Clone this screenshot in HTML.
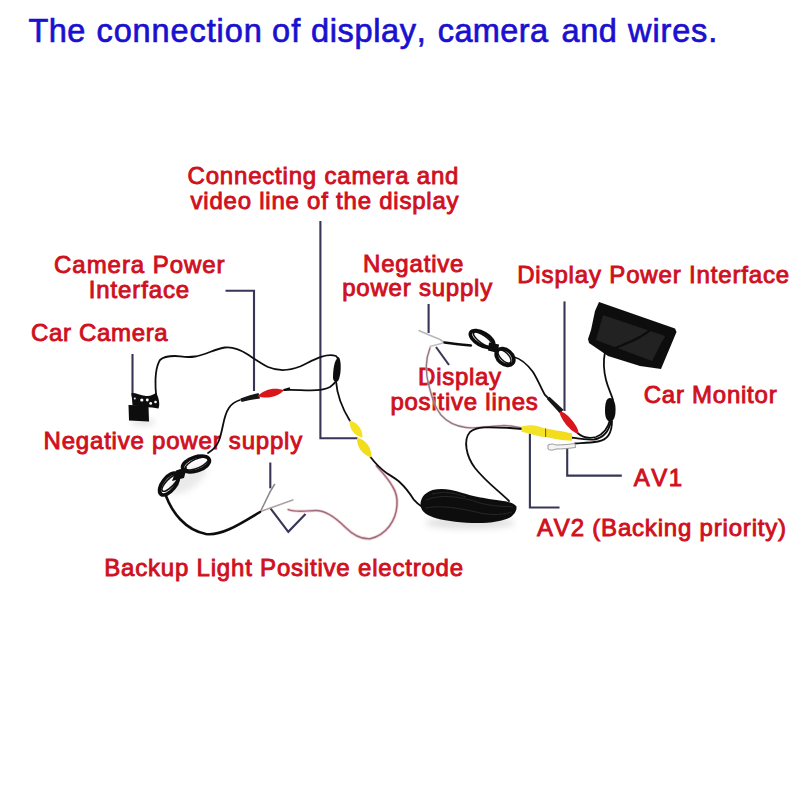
<!DOCTYPE html>
<html><head><meta charset="utf-8">
<style>
html,body{margin:0;padding:0;background:#fff;}
body{width:800px;height:800px;position:relative;overflow:hidden;font-family:"Liberation Sans",sans-serif;}
.t{position:absolute;white-space:nowrap;line-height:1;transform-origin:0 0;font-kerning:none;}
.title{color:#1a10cf;font-size:32.5px;-webkit-text-stroke:0.7px #1a10cf;}
.r{color:#d0101e;font-size:24.0px;-webkit-text-stroke:0.9px #d0101e;}
.c{text-align:center;}
svg{position:absolute;left:0;top:0;}
#wrap{position:absolute;left:0;top:0;width:800px;height:800px;}
</style></head><body><div id="wrap">
<!--TITLE-->
<div class="t title" style="left:28.50px;top:14.80px;letter-spacing:0.400px">The</div>
<div class="t title" style="left:96.50px;top:14.80px;letter-spacing:0.889px">connection</div>
<div class="t title" style="left:272.10px;top:14.80px;letter-spacing:1.000px">of</div>
<div class="t title" style="left:310.90px;top:14.80px;letter-spacing:0.671px">display,</div>
<div class="t title" style="left:437.75px;top:14.80px;letter-spacing:0.400px">camera</div>
<div class="t title" style="left:561.50px;top:14.80px;letter-spacing:0.600px">and</div>
<div class="t title" style="left:628.10px;top:14.80px;letter-spacing:0.840px">wires.</div>
<!--/TITLE-->


<!--LABELS-->
<div class="t r" style="left:187.60px;top:163.70px;letter-spacing:0.800px">Connecting camera and</div>
<div class="t r" style="left:190.50px;top:189.00px;letter-spacing:0.775px">video line of the display</div>
<div class="t r" style="left:54.10px;top:252.50px;letter-spacing:0.945px">Camera Power</div>
<div class="t r" style="left:88.80px;top:278.00px;letter-spacing:0.863px">Interface</div>
<div class="t r" style="left:31.00px;top:321.00px;letter-spacing:0.667px">Car Camera</div>
<div class="t r" style="left:43.60px;top:429.25px;letter-spacing:0.790px">Negative power supply</div>
<div class="t r" style="left:104.25px;top:556.00px;letter-spacing:0.800px">Backup Light Positive electrode</div>
<div class="t r" style="left:363.10px;top:252.00px;letter-spacing:0.800px">Negative</div>
<div class="t r" style="left:342.25px;top:276.40px;letter-spacing:0.773px">power supply</div>
<div class="t r" style="left:517.20px;top:262.50px;letter-spacing:0.845px">Display Power Interface</div>
<div class="t r" style="left:418.10px;top:365.10px;letter-spacing:0.717px">Display</div>
<div class="t r" style="left:390.40px;top:389.50px;letter-spacing:0.769px">positive lines</div>
<div class="t r" style="left:643.75px;top:382.50px;letter-spacing:0.750px">Car Monitor</div>
<div class="t r" style="left:633.70px;top:465.50px;letter-spacing:1.500px">AV1</div>
<div class="t r" style="left:537.00px;top:515.50px;letter-spacing:0.810px">AV2 (Backing priority)</div>
<!--/LABELS-->
<!--GFX-->
<svg width="800" height="800" viewBox="0 0 800 800" style="position:absolute;left:0;top:0">
  <defs>
    <filter id="soft" x="-20%" y="-20%" width="140%" height="140%"><feGaussianBlur stdDeviation="0.45"/></filter>
    <filter id="shadow" x="-30%" y="-50%" width="160%" height="200%"><feGaussianBlur stdDeviation="3"/></filter>
  </defs>
  <!-- soft shadows -->
  <ellipse cx="470" cy="523" rx="45" ry="6" fill="#c8c8c8" opacity="0.55" filter="url(#shadow)"/>
  <ellipse cx="188" cy="480" rx="22" ry="9" transform="rotate(-35 188 480)" fill="#d0d0d0" opacity="0.45" filter="url(#shadow)"/>
  <ellipse cx="143" cy="422" rx="12" ry="4" fill="#c8c8c8" opacity="0.5" filter="url(#shadow)"/>

  <g filter="url(#soft)">
  <!-- navy pointer lines -->
  <g fill="none" stroke="#373656" stroke-width="2.1" stroke-linejoin="miter">
    <polyline points="320.4,221 320.4,438.2 357.7,438.2"/>
    <polyline points="225.5,290.8 254,290.8 254,391"/>
    <line x1="132.5" y1="354" x2="132.5" y2="396.5"/>
    <line x1="270.3" y1="462.5" x2="270.3" y2="488.3"/>
    <polyline points="270.3,508.1 288.3,531.8 305.5,514.1"/>
    <line x1="428.6" y1="304" x2="428.6" y2="333"/>
    <line x1="436" y1="347" x2="449" y2="365"/>
    <line x1="564.5" y1="301.4" x2="564.5" y2="411"/>
    <polyline points="567.2,447.5 567.2,475.6 621.8,475.6"/>
    <polyline points="529.9,433.4 529.9,507.5 559.5,507.5"/>
  </g>
  <!-- pink / gray thin wires -->
  <g fill="none" stroke-linecap="round">
    <path d="M260.5,511.5 L270.3,491.3 L274.5,484.5" stroke="#8a8a8a" stroke-width="1.6"/>
    <path d="M260.5,511.5 L292.8,499.9" stroke="#b0a0a4" stroke-width="1.6"/>
    <path d="M288.3,509.6 C296,512.5 305,511 315,510.5 C326,510 336,518 345,527 C352,534 360,539.5 370,538.8 C386,535 396,521 397,505 C397.5,497 395.5,491 392.5,486.5 C389,480 383,473 376.5,466" stroke="#eeaab8" stroke-width="3.2" opacity="0.5"/>
    <path d="M288.3,509.6 C296,512.5 305,511 315,510.5 C326,510 336,518 345,527 C352,534 360,539.5 370,538.8 C386,535 396,521 397,505 C397.5,497 395.5,491 392.5,486.5 C389,480 383,473 376.5,466" stroke="#a06d7a" stroke-width="1.5"/>
    <path d="M419,330.5 C424,333 434,337 440,339.5 L444.5,342.5" stroke="#b8b8b8" stroke-width="1.6"/>
    <path d="M430,346.5 C434,345.5 440,344 444.5,342.5" stroke="#c0c0c0" stroke-width="1.5"/>
    <path d="M430,348 C426,358 425,372 429,386 C432,397 434,406 441,415 C447,422 455,426 466,427.5 C478,429 490,426 504,425.5 C512,425.5 517,427 522,428" stroke="#f0c4cc" stroke-width="3" opacity="0.4"/>
    <path d="M430,348 C426,358 425,372 429,386 C432,397 434,406 441,415 C447,422 455,426 466,427.5 C478,429 490,426 504,425.5 C512,425.5 517,427 522,428" stroke="#8c7a86" stroke-width="1.4"/>
  </g>
  <!-- black wires -->
  <g fill="none" stroke="#111" stroke-width="1.8" stroke-linecap="round">
    <path d="M156,394 C155,382 155,368 160,360 C163,357 168,356 175,356 C180,356 186,358 195,356.5 C205,355 215,349 225,347.5 C233,346.5 240,349.5 247,354 C254,358.5 262,364 268,367 C275,370 286,372 300,366.5 C312,361 325,352.5 336,356 L338.5,359"/>
    <path d="M284,390 C300,389 318,393 330,387 C334,384 336,382 336,380"/>
    <path d="M336,381 C337,395 342,408 350,421"/>
    <path d="M370.5,457 C375,463 381,469 386.5,473 C391,476 395,478 399,481.5 C404,486 409,492 413.5,499.3 C416,502 418,504 421,506"/>
    <path d="M240,400 C230,403 226,410 223,425 C220,440 218,447 208,453"/>
    <path d="M166,496 C172,512 185,530 206,534 C222,536 240,524 260,512" stroke-width="2.6"/>
    <path d="M509,501 C500,492 486,482 475,468 C466,456 463,440 470,432 C477,426 490,427 510,428 L522,429"/>
    <path d="M444.5,342.5 C452,343.5 460,344.5 471,345.5" stroke-width="2.4"/>
    <path d="M514,357 C522,359 527,364 533,372 C538,380 541,388 545,395 L550,400"/>
    <path d="M605,352 C603,362 604,372 606,380 C608,388 611,393 613,400"/>
    <path d="M610,420 C608,428 604,434 596,437 C588,439 582,437 577.5,433" stroke-width="1.8"/>
    <path d="M611,421 C609,431 603,438 594,439.5 C586,440 578,438.5 571,437.5" stroke-width="1.8"/>
    <path d="M612,421 C612,433 607,440 598,441.5 C590,443 582,443 575,443.5" stroke-width="1.8"/>
  </g>
  <!-- top black connector -->
  <path d="M338.5,357 C342,360 341,377 338,381 C336,383 333,381 333,378 C333,370 334,360 338.5,357 Z" fill="#111"/>
  <!-- monitor cable connector -->
  <path d="M610,398 C614,398 616,404 615.5,412 C615,419 613,421 610,421.5 C607,421 605,418 605,411 C605,404 606,398 610,398 Z" fill="#111"/>
  <!-- red connector left -->
  <path d="M240.5,398.5 C246,396.5 252,394.5 258.5,393 L260,398.5 C253,399.5 247,400.5 241.5,402 Z" fill="#141414"/>
  <path d="M257.5,396.0 C266.6,399.4 277.2,397.1 284.0,390.2 C274.9,386.8 264.3,389.1 257.5,396.0 Z" fill="#d8141f"/>
  <path d="M284,390 L290,388.3" stroke="#111" stroke-width="2" fill="none"/>
  <!-- red connector right -->
  <path d="M547,399.2 L549.5,396.8 L563.5,409.8 L560,413.6 Z" fill="#141414"/>
  <path d="M560.0,411.5 C558.1,416.8 572.7,434.3 578.2,433.4 C580.1,428.1 565.5,410.6 560.0,411.5 Z" fill="#d8141f"/>
  <!-- yellow RCA left -->
  <path d="M349.5,420.5 C349.1,428.9 354.3,435.9 362.5,437.8 C362.9,429.4 357.7,422.4 349.5,420.5 Z" fill="#f4e226"/>
  <path d="M357.0,437.5 C356.5,447.0 362.2,454.9 371.4,457.4 C371.9,447.9 366.2,440.0 357.0,437.5 Z" fill="#f2dc1e"/>
  <!-- yellow RCA right -->
  <path d="M521.5,426.6 C526,425.5 530,425 533,425.2 C538,425.8 542,427.5 545.6,428.4 L545.6,437 C540,436.5 536,435.5 532.5,434.4 C529,433.5 525,432.5 521.5,431.8 Z" fill="#f4e226"/>
  <path d="M545.6,428.4 C551,429.2 555,430.2 558.7,430.8 C563,431.6 567,432.5 572,433.5 L572,440.8 C567,440.6 563,440 558.7,439.5 C554,438.8 550,437.8 545.6,437 Z" fill="#f2dc1e"/>
  <line x1="545.6" y1="428.5" x2="545.6" y2="437" stroke="#6a5a10" stroke-width="1"/>
  <!-- white plug -->
  <path d="M548,445 C551,443.5 554,444 556,445 C562,445 568,444.5 575,443.5 L575.5,447.5 C568,448.5 562,449 556,449 C553,450.5 549.5,450.5 548,449 Z" fill="#f4f4f4" stroke="#909090" stroke-width="0.9"/>
  <!-- camera -->
  <path d="M128.5,405 L148.5,405.5 L149,421.5 L129,420.5 Z" fill="#0d0d0d"/>
  <path d="M131.5,393 C135,392.5 140,395 146,396 C151,396.5 154,394 156.5,393 L158,397 C159,400 160,405 158.5,408.5 L152,407.5 C147,407 143,406.5 138,406 L132.5,405.5 Z" fill="#111"/>
  <circle cx="134.8" cy="398.6" r="1" fill="#e8e8e8"/>
  <circle cx="141.8" cy="400" r="1.6" fill="#fff"/>
  <circle cx="147.3" cy="400" r="1.4" fill="#fff"/>
  <circle cx="150.7" cy="403.4" r="1.4" fill="#fff"/>
  <circle cx="155.5" cy="402" r="1.3" fill="#fff"/>
  <!-- left coil -->
  <g fill="none" stroke="#0b0b0b" stroke-linecap="round">
    <ellipse cx="196" cy="464" rx="14" ry="7" transform="rotate(-18 196 464)" stroke-width="3.6"/>
    <ellipse cx="197" cy="463.5" rx="12.5" ry="4.5" transform="rotate(-24 197 463.5)" stroke-width="1.5"/>
    <ellipse cx="169" cy="484" rx="13" ry="6.5" transform="rotate(-52 169 484)" stroke-width="3.6"/>
    <ellipse cx="170" cy="483" rx="11" ry="3.8" transform="rotate(-46 170 483)" stroke-width="1.5"/>
    <path d="M176,470.5 L187,467 L184,478 L172,481 Z" fill="#0b0b0b" stroke="none"/>
  </g>
  <!-- small coil -->
  <g fill="none" stroke="#0b0b0b" stroke-linecap="round">
    <ellipse cx="482" cy="339" rx="13" ry="6.2" transform="rotate(30 482 339)" stroke-width="3.6"/>
    <ellipse cx="483" cy="339.5" rx="11.5" ry="3.8" transform="rotate(36 483 339.5)" stroke-width="1.5"/>
    <ellipse cx="505" cy="357" rx="10" ry="7" transform="rotate(40 505 357)" stroke-width="3.6"/>
    <ellipse cx="504.5" cy="356.5" rx="8.5" ry="4" transform="rotate(46 504.5 356.5)" stroke-width="1.5"/>
    <path d="M489,342.5 L499,344.5 L498,353 L488,350.5 Z" fill="#0b0b0b" stroke="none"/>
  </g>
  <!-- big coil -->
  <path d="M420.5,505 C420.5,498 424,493 432.5,490 C440,488 450,488.5 462.5,493 C472,496 485,498.5 500,500.5 C508,501.5 514,503 516.5,506.5 C517,511 514,515 510,517.5 C503,521 492,523 477.5,523 C462,523 447,521 437,518.5 C428,516 421,512 420.5,505 Z" fill="#0e0e0e"/>
  <g fill="none" stroke="#2c2c2c" stroke-width="0.9" opacity="0.9">
    <path d="M426,500 C440,494 460,496 480,503 C495,507 505,506 513,507"/>
    <path d="M425,508 C440,505 460,508 480,513 C495,516 505,514 512,512"/>
    <path d="M432,494 C445,491 455,493 466,497"/>
  </g>
  <!-- monitor -->
  <path d="M599,302 L675,328.5 L676.5,332 L661,369 L640,366 L608,356 L589,343 L588,339 L591,330 L595,311 Z" fill="#0f0f0f"/>
  <path d="M603,315 L665,336 L652,361 L596,340 Z" fill="#202020"/>
  <path d="M607,352 C620,345 640,340 650,330" fill="none" stroke="#0a0a0a" stroke-width="2"/>
  </g>
</svg>
<!--/GFX-->
</div></body></html>
